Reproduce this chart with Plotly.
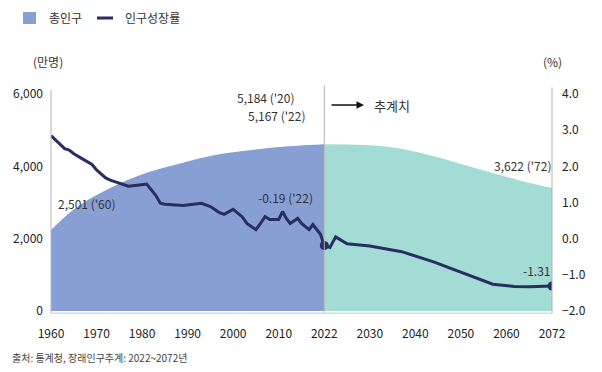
import numpy as np
import plotly.graph_objects as go

# ---- data ----
TICK_YEARS = [1960, 1970, 1980, 1990, 2000, 2010, 2022, 2030, 2040, 2050, 2060, 2072]
TICK_LABELS = [str(y) for y in TICK_YEARS]

pop_hist_years = [1960, 1966, 1974, 1981, 1989, 1996, 2004, 2011, 2018, 2022]
pop_hist_vals = [2240, 2900, 3460, 3820, 4100, 4310, 4450, 4540, 4590, 4610]

pop_proj_years = [2022, 2029, 2036, 2043, 2050, 2057, 2064, 2072]
pop_proj_vals = [4610, 4590, 4507, 4313, 4065, 3816, 3595, 3400]

growth_years = [1960, 1962, 1963, 1964, 1965, 1967, 1969, 1970, 1972, 1973, 1975, 1977,
                1979, 1981, 1983, 1984, 1985, 1989, 1993, 1995, 1997, 1998, 2000, 2002,
                2003, 2005, 2006, 2007, 2008, 2010, 2011, 2012, 2013, 2015, 2016, 2018,
                2019, 2020, 2021, 2022, 2023, 2024, 2025, 2026, 2030, 2037, 2044, 2051,
                2057, 2062, 2066, 2072]
growth_vals = [2.85, 2.6, 2.49, 2.45, 2.35, 2.2, 2.05, 1.9, 1.68, 1.62, 1.54, 1.45,
               1.48, 1.51, 1.2, 0.98, 0.95, 0.92, 0.98, 0.89, 0.72, 0.67, 0.81, 0.6,
               0.42, 0.25, 0.42, 0.61, 0.53, 0.53, 0.75, 0.56, 0.42, 0.56, 0.42, 0.25,
               0.39, 0.25, 0.12, -0.19, -0.24, 0.05, -0.05, -0.14, -0.2, -0.36, -0.64, -0.98,
               -1.26, -1.32, -1.33, -1.31]

marker_years = [2022, 2072]
marker_vals = [-0.19, -1.31]

LEFT_TICKS = [0, 2000, 4000, 6000]
RIGHT_TICKS = [-2, -1, 0, 1, 2, 3, 4]

# ---- styles ----
FONT = "Noto Sans CJK KR"
NAVY = "#282d62"
BLUE = "#889fd3"
TEAL = "#a3dcd4"
AXIS_GRAY = "#b4b4b4"
TXT = "#333333"


def xpos(years):
    # label axis: ticks are evenly spaced, years mapped piecewise between them
    return np.interp(years, TICK_YEARS, np.arange(len(TICK_YEARS)))


fig = go.Figure()

fig.add_trace(go.Scatter(x=xpos(pop_hist_years), y=pop_hist_vals, mode="lines",
                         line=dict(width=0, shape="spline", color=BLUE),
                         fill="tozeroy", fillcolor=BLUE, showlegend=False,
                         hoverinfo="skip"))
fig.add_trace(go.Scatter(x=xpos(pop_proj_years), y=pop_proj_vals, mode="lines",
                         line=dict(width=0, shape="spline", color=TEAL),
                         fill="tozeroy", fillcolor=TEAL, showlegend=False,
                         hoverinfo="skip"))
fig.add_trace(go.Scatter(x=xpos(growth_years), y=growth_vals, mode="lines", yaxis="y2",
                         line=dict(width=3, color=NAVY), showlegend=False))
fig.add_trace(go.Scatter(x=xpos(marker_years), y=marker_vals, mode="markers", yaxis="y2",
                         marker=dict(size=9, color=NAVY), showlegend=False))

# vertical divider at 2022
x22 = float(xpos([2022])[0])
fig.add_shape(type="line", xref="x", yref="paper", x0=x22, x1=x22, y0=-0.01, y1=1.04,
              line=dict(color=AXIS_GRAY, width=1))
# axis lines extended slightly above plot
fig.add_shape(type="line", xref="paper", yref="paper", x0=0, x1=0, y0=-0.01, y1=1.02,
              line=dict(color=AXIS_GRAY, width=1))
fig.add_shape(type="line", xref="paper", yref="paper", x0=1, x1=1, y0=-0.01, y1=1.03,
              line=dict(color=AXIS_GRAY, width=1))
fig.add_shape(type="line", xref="paper", yref="paper", x0=0, x1=1, y0=-0.01, y1=-0.01,
              line=dict(color="#c8c8c8", width=1))

ann = []


def text(x, y, s, size=12, xanchor="center", color=TXT, xref="paper", yref="paper"):
    ann.append(dict(x=x, y=y, xref=xref, yref=yref, text=s, showarrow=False,
                    xanchor=xanchor, yanchor="middle",
                    font=dict(family=FONT, size=size, color=color)))


W, H = 602, 372
L, R, T, B = 51, 50, 94, 61
PW, PH = W - L - R, H - T - B


def px(x):
    return (x - L) / PW


def py(y):
    return (H - B - y) / PH


# data labels
text(px(56), py(203), "2,501 ('60)", xanchor="left")
text(px(256), py(197), "-0.19 ('22)", xanchor="left")
text(px(235), py(97), "5,184 ('20)", xanchor="left")
text(px(246), py(115), "5,167 ('22)", xanchor="left")
text(px(492), py(165), "3,622 ('72)", xanchor="left")
text(px(521), py(270), "-1.31", xanchor="left")
text(px(372), py(105), "추계치", size=13, xanchor="left")
ann.append(dict(x=px(364), y=py(105), ax=-34, ay=0, xref="paper", yref="paper",
                axref="pixel", ayref="pixel", text="", showarrow=True, arrowhead=2,
                arrowsize=1, arrowwidth=1.5, arrowcolor="#111111"))

# axis titles
text(px(48), py(61), "(만명)")
text(px(552), py(61), "(%)")

# legend
fig.add_shape(type="rect", xref="paper", yref="paper", x0=px(23), x1=px(36), y0=py(24),
              y1=py(12), fillcolor=BLUE, line=dict(width=0))
text(px(47), py(18), "총인구", xanchor="left")
fig.add_shape(type="line", xref="paper", yref="paper", x0=px(97), x1=px(113), y0=py(18),
              y1=py(18), line=dict(color=NAVY, width=3))
text(px(123), py(18), "인구성장률", xanchor="left")

# source
text(px(10), py(357), "출처: 통계청, 장래인구추계: 2022~2072년", size=10, xanchor="left",
     color="#444444")

fig.update_layout(
    width=W, height=H, margin=dict(l=L, r=R, t=T, b=B),
    paper_bgcolor="white", plot_bgcolor="white",
    font=dict(family=FONT, size=12, color=TXT),
    annotations=ann, showlegend=False,
    xaxis=dict(range=[0, len(TICK_YEARS) - 1], tickvals=list(range(len(TICK_YEARS))),
               ticktext=TICK_LABELS, showgrid=False, zeroline=False, showline=False,
               ticks="", ticklabelstandoff=14, automargin=False,
               tickfont=dict(family=FONT, size=12, color="#222222")),
    yaxis=dict(range=[0, 6000], tickvals=LEFT_TICKS, tickformat=",d", showgrid=False,
               zeroline=False, showline=False, ticks="", ticklabelstandoff=7,
               automargin=False,
               tickfont=dict(family=FONT, size=12, color="#222222")),
    yaxis2=dict(range=[-2, 4], tickvals=RIGHT_TICKS, tickformat=".1f", overlaying="y",
                side="right", showgrid=False, zeroline=False, showline=False, ticks="",
                ticklabelstandoff=9, automargin=False,
                tickfont=dict(family=FONT, size=12, color="#222222")),
)

fig.write_html("out.html", config={"displayModeBar": False},
               post_script="document.body.style.margin='0';")
